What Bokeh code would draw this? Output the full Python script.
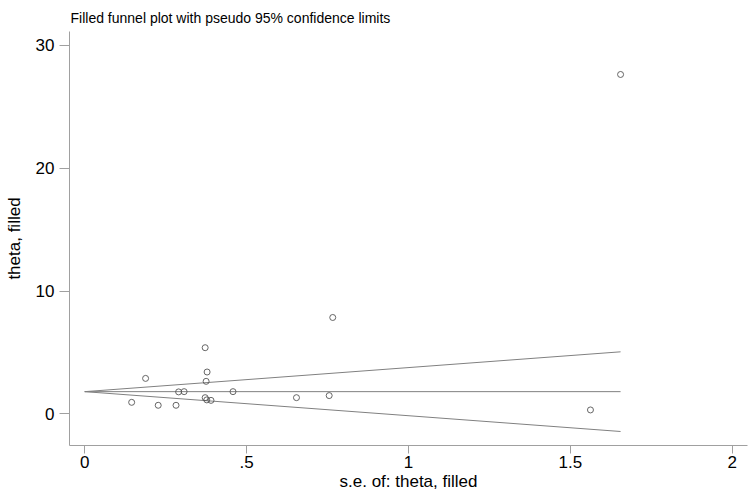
from bokeh.plotting import figure
from bokeh.models import Range1d, FixedTicker, ColumnDataSource
from bokeh.embed import file_html
from bokeh.resources import INLINE

# Study standard errors and effect estimates (observed + filled)
se = [0.145, 0.188, 0.227, 0.282, 0.290, 0.307, 0.372, 0.378, 0.375, 0.372,
      0.377, 0.390, 0.458, 0.654, 0.755, 0.766, 1.562, 1.655]
theta = [0.94, 2.89, 0.70, 0.70, 1.79, 1.81, 5.39, 3.41, 2.65, 1.32,
         1.14, 1.10, 1.81, 1.32, 1.49, 7.85, 0.32, 27.64]

pooled_theta = 1.81
z95 = 1.96

x_ticks = [0, 0.5, 1, 1.5, 2]
x_tick_labels = ["0", ".5", "1", "1.5", "2"]
y_ticks = [0, 10, 20, 30]
y_tick_labels = ["0", "10", "20", "30"]

FONT = "Liberation Sans"

p = figure(width=749, height=493, output_backend="svg", toolbar_location=None,
           x_range=Range1d(-0.047, 2.047), y_range=Range1d(-2.575, 31.14),
           min_border_left=69, min_border_right=2, min_border_top=31,
           min_border_bottom=47,
           title="Filled funnel plot with pseudo 95% confidence limits")

p.title.text_font = FONT
p.title.text_font_size = "14px"
p.title.text_font_style = "normal"
p.title.text_color = "black"
p.title.align = "left"
p.title.vertical_align = "top"
p.title.offset = 1
p.title.standoff = 8

p.xgrid.visible = False
p.ygrid.visible = False
p.outline_line_color = None

se_max = max(se)
xs = [0, se_max]
p.line(xs, [pooled_theta, pooled_theta], line_color="#808080", line_width=1)
p.line(xs, [pooled_theta, pooled_theta + z95 * se_max], line_color="#808080", line_width=1)
p.line(xs, [pooled_theta, pooled_theta - z95 * se_max], line_color="#808080", line_width=1)

src = ColumnDataSource(dict(se=se, theta=theta))
p.scatter("se", "theta", source=src, marker="circle", size=6,
          fill_color=None, line_color="#555555", line_width=0.9)

for ax in (p.xaxis[0], p.yaxis[0]):
    ax.axis_line_color = "#a0a0a0"
    ax.major_tick_line_color = "#a0a0a0"
    ax.minor_tick_line_color = None
    ax.major_tick_in = 0
    ax.major_label_text_font = FONT
    ax.major_label_text_font_size = "17px"
    ax.major_label_text_color = "black"
    ax.axis_label_text_font = FONT
    ax.axis_label_text_font_size = "17px"
    ax.axis_label_text_font_style = "normal"
    ax.axis_label_text_color = "black"

p.xaxis[0].ticker = FixedTicker(ticks=x_ticks)
p.xaxis[0].major_label_overrides = dict(zip(x_ticks, x_tick_labels))
p.xaxis[0].major_tick_out = 8
p.xaxis[0].major_label_standoff = 2
p.xaxis[0].axis_label = "s.e. of: theta, filled"
p.xaxis[0].axis_label_standoff = 1

p.yaxis[0].ticker = FixedTicker(ticks=y_ticks)
p.yaxis[0].major_label_overrides = dict(zip(y_ticks, y_tick_labels))
p.yaxis[0].major_tick_out = 10
p.yaxis[0].major_label_standoff = 5
p.yaxis[0].major_label_orientation = "horizontal"
p.yaxis[0].axis_label = "theta, filled"
p.yaxis[0].axis_label_standoff = 9

open("out.html", "w").write(file_html(p, INLINE))
